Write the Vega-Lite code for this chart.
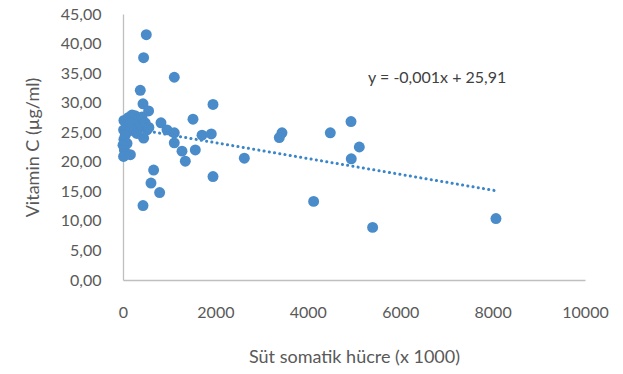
{
  "$schema": "https://vega.github.io/schema/vega-lite/v6.json",
  "autosize": {"type": "none"},
  "width": 462,
  "height": 266,
  "padding": {"left": 123, "top": 14, "right": 38, "bottom": 94},
  "background": "white",
  "config": {
    "view": {"stroke": null},
    "font": "Lato",
    "axis": {
      "grid": false,
      "ticks": false,
      "domainColor": "#bfbfbf",
      "domainWidth": 1.3,
      "labelColor": "#595959",
      "titleColor": "#595959",
      "labelFont": "Lato",
      "titleFont": "Lato",
      "labelFontSize": 16,
      "titleFontSize": 18,
      "titleFontWeight": "normal",
      "labelOverlap": false
    },
    "axisY": {"labelOverlap": false},
    "axisQuantitative": {"labelOverlap": false}
  },
  "datasets": {
    "pts": [
      {"scc": 504, "vitc": 41.5}, {"scc": 446, "vitc": 37.6}, {"scc": 1110, "vitc": 34.3},
      {"scc": 374, "vitc": 32.1}, {"scc": 433, "vitc": 29.8}, {"scc": 554, "vitc": 28.6},
      {"scc": 1948, "vitc": 29.7}, {"scc": 1515, "vitc": 27.2}, {"scc": 822, "vitc": 26.6},
      {"scc": 952, "vitc": 25.4}, {"scc": 1110, "vitc": 24.9}, {"scc": 1710, "vitc": 24.5},
      {"scc": 1911, "vitc": 24.7}, {"scc": 1110, "vitc": 23.2}, {"scc": 1277, "vitc": 21.8},
      {"scc": 1565, "vitc": 22.0}, {"scc": 1349, "vitc": 20.1}, {"scc": 2626, "vitc": 20.6},
      {"scc": 663, "vitc": 18.6}, {"scc": 606, "vitc": 16.4}, {"scc": 793, "vitc": 14.8},
      {"scc": 433, "vitc": 12.6}, {"scc": 1948, "vitc": 17.5}, {"scc": 446, "vitc": 24.0},
      {"scc": 3441, "vitc": 24.9}, {"scc": 3383, "vitc": 24.1}, {"scc": 4487, "vitc": 24.9},
      {"scc": 4935, "vitc": 26.8}, {"scc": 5115, "vitc": 22.5}, {"scc": 4941, "vitc": 20.5},
      {"scc": 4126, "vitc": 13.3}, {"scc": 5403, "vitc": 8.9}, {"scc": 8073, "vitc": 10.4},
      {"scc": 20, "vitc": 27.0}, {"scc": 50, "vitc": 26.8}, {"scc": 120, "vitc": 27.5},
      {"scc": 195, "vitc": 27.9}, {"scc": 260, "vitc": 27.8}, {"scc": 330, "vitc": 27.3},
      {"scc": 411, "vitc": 27.6}, {"scc": 150, "vitc": 26.5}, {"scc": 250, "vitc": 26.2},
      {"scc": 411, "vitc": 25.9}, {"scc": 519, "vitc": 25.4}, {"scc": 320, "vitc": 25.7},
      {"scc": 13, "vitc": 25.4}, {"scc": 80, "vitc": 25.0}, {"scc": 200, "vitc": 25.3},
      {"scc": 50, "vitc": 24.5}, {"scc": 20, "vitc": 23.8}, {"scc": 87, "vitc": 23.1},
      {"scc": 0, "vitc": 22.8}, {"scc": 30, "vitc": 22.0}, {"scc": 50, "vitc": 21.4},
      {"scc": 13, "vitc": 20.9}, {"scc": 160, "vitc": 21.2}, {"scc": 300, "vitc": 24.8},
      {"scc": 480, "vitc": 26.6}, {"scc": 560, "vitc": 25.8}
    ],
    "trend": [
      {"scc": 0, "vitc": 25.91},
      {"scc": 8073, "vitc": 15.1}
    ],
    "note": [
      {"scc": 6800, "vitc": 34.2, "label": "y = -0,001x + 25,91"}
    ]
  },
  "encoding": {
    "x": {"field": "scc", "type": "quantitative", "scale": {"domain": [0, 10000], "nice": false},
      "axis": {"title": "Süt somatik hücre (x 1000)", "values": [0, 2000, 4000, 6000, 8000, 10000], "format": "d", "labelPadding": 24, "titlePadding": 28, "labelFlush": false, "labelOverlap": false}},
    "y": {"field": "vitc", "type": "quantitative", "scale": {"domain": [0, 45], "nice": false},
      "axis": {"title": "Vitamin C (µg/ml)", "tickCount": 9, "labelExpr": "replace(format(datum.value, '.2f'), '.', ',')", "labelPadding": 22, "titlePadding": 18, "labelFlush": false, "labelOverlap": false, "labelBound": false}}
  },
  "layer": [
    {
      "data": {"name": "trend"},
      "mark": {"type": "line", "color": "#3a86c8", "strokeWidth": 3, "strokeDash": [0.1, 5.2], "strokeCap": "round"}
    },
    {
      "data": {"name": "pts"},
      "mark": {"type": "circle", "size": 120, "color": "#4a8bca", "opacity": 1}
    },
    {
      "data": {"name": "note"},
      "mark": {"type": "text", "font": "Lato", "fontSize": 16, "color": "#404040", "align": "center", "baseline": "middle"},
      "encoding": {
        "text": {"field": "label"}
      }
    }
  ]
}
